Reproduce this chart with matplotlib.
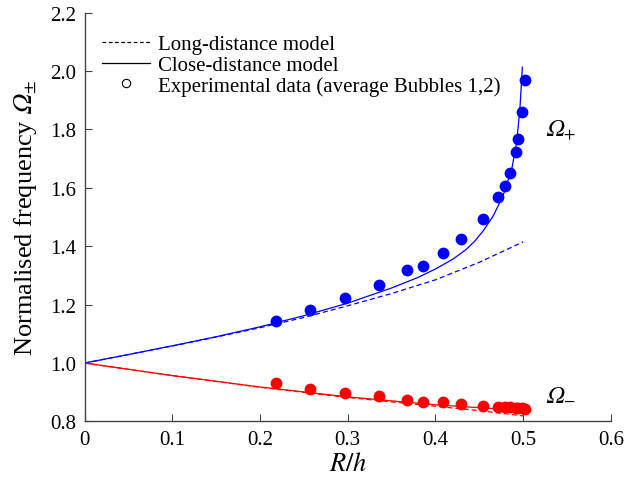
import matplotlib
matplotlib.use("Agg")
import matplotlib.pyplot as plt
from matplotlib.lines import Line2D

plt.rcParams['font.family'] = ['Liberation Serif', 'DejaVu Serif']
plt.rcParams['mathtext.fontset'] = 'stix'

OM = '\U0001D6FA'  # mathematical italic capital omega

# Experimental data (average Bubbles 1,2)
exp_x = [0.218, 0.257, 0.2965, 0.3355, 0.3672, 0.3857, 0.408, 0.4287, 0.4541,
         0.4708, 0.4795, 0.4852, 0.4917, 0.4943, 0.4982, 0.502]
exp_plus = [1.145, 1.183, 1.224, 1.2675, 1.318, 1.3336, 1.376, 1.424, 1.4925,
            1.5688, 1.6065, 1.652, 1.723, 1.7675, 1.861, 1.9695]
exp_minus = [0.931, 0.911, 0.897, 0.887, 0.875, 0.868, 0.866, 0.860, 0.854,
             0.851, 0.849, 0.848, 0.847, 0.846, 0.845, 0.843]

# Long-distance model
long_x = [0, 0.05, 0.1, 0.15, 0.2, 0.25, 0.3, 0.35, 0.4, 0.45, 0.5]
long_plus = [1.0, 1.029, 1.058, 1.089, 1.121, 1.156, 1.196, 1.238, 1.285, 1.345, 1.415]
long_minus_x = [0, 0.1, 0.2, 0.3, 0.4, 0.45, 0.5]
long_minus = [1.0, 0.957, 0.917, 0.882, 0.852, 0.837, 0.819]

# Close-distance model
close_plus_x = [0, 0.05, 0.1, 0.15, 0.2, 0.25, 0.3, 0.35, 0.38, 0.4, 0.42, 0.435,
                0.445, 0.455, 0.466, 0.477, 0.487, 0.4925, 0.4962, 0.499]
close_plus = [1.0, 1.029, 1.059, 1.09, 1.124, 1.162, 1.205, 1.257, 1.293, 1.322,
              1.356, 1.389, 1.418, 1.455, 1.505, 1.573, 1.665, 1.756, 1.870, 2.013]
close_minus_x = [0, 0.1, 0.2, 0.3, 0.4, 0.45, 0.48, 0.5]
close_minus = [1.0, 0.957, 0.918, 0.884, 0.857, 0.847, 0.841, 0.836]

xticks = [0, 0.1, 0.2, 0.3, 0.4, 0.5, 0.6]
xticklabels = ['0', '0.1', '0.2', '0.3', '0.4', '0.5', '0.6']
yticks = [0.8, 1.0, 1.2, 1.4, 1.6, 1.8, 2.0, 2.2]
yticklabels = ['0.8', '1.0', '1.2', '1.4', '1.6', '1.8', '2.0', '2.2']

fig = plt.figure(figsize=(6.26, 4.85), dpi=100)
ax = fig.add_axes([0.135, 0.129, 0.841, 0.843])

blue = '#0000ff'
red = '#ff0000'
ax.plot(long_x, long_plus, ls=(0, (4, 2.5)), color=blue, lw=0.9)
ax.plot(long_minus_x, long_minus, ls=(0, (4, 2.5)), color=red, lw=0.9)
ax.plot(close_plus_x, close_plus, ls='-', color=blue, lw=0.9)
ax.plot(close_minus_x, close_minus, ls='-', color=red, lw=0.9)
ax.plot(exp_x, exp_plus, 'o', color=blue, ms=8.5, mec='none')
ax.plot(exp_x, exp_minus, 'o', color=red, ms=8.5, mec='none')

ax.set_xlim(0, 0.6)
ax.set_ylim(0.8, 2.2)
ax.set_xticks(xticks)
ax.set_xticklabels(xticklabels)
ax.set_yticks(yticks)
ax.set_yticklabels(yticklabels)
ax.tick_params(direction='in', length=5, width=0.8, labelsize=15, colors='#444444',
               labelcolor='black', pad=6)
for s in ['top', 'right']:
    ax.spines[s].set_visible(False)
for s in ['left', 'bottom']:
    ax.spines[s].set_color('#444444')
    ax.spines[s].set_linewidth(1.0)

ax.set_xlabel('$R/h$', fontsize=19, labelpad=2)
ax.set_ylabel('Normalised frequency $' + OM + r'_{\pm}$', fontsize=19, labelpad=8)

ax.text(0.525, 1.8, '$' + OM + '_{+}$', fontsize=17, ha='left', va='center')
ax.text(0.525, 0.895, '$' + OM + '_{-}$', fontsize=17, ha='left', va='center')

handles = [
    Line2D([], [], ls=(0, (3, 2)), color='k', lw=0.9),
    Line2D([], [], ls='-', color='k', lw=0.9),
    Line2D([], [], ls='', marker='o', mfc='none', mec='k', ms=6, mew=0.8),
]
labels = ['Long-distance model', 'Close-distance model',
          'Experimental data (average Bubbles 1,2)']
ax.legend(handles, labels, loc='upper left', bbox_to_anchor=(0.033, 0.946),
          frameon=False, fontsize=15, handlelength=2.3, handletextpad=0.4,
          labelspacing=0.05, borderaxespad=0.0, borderpad=0.0)

fig.savefig('out.png', dpi=100)
